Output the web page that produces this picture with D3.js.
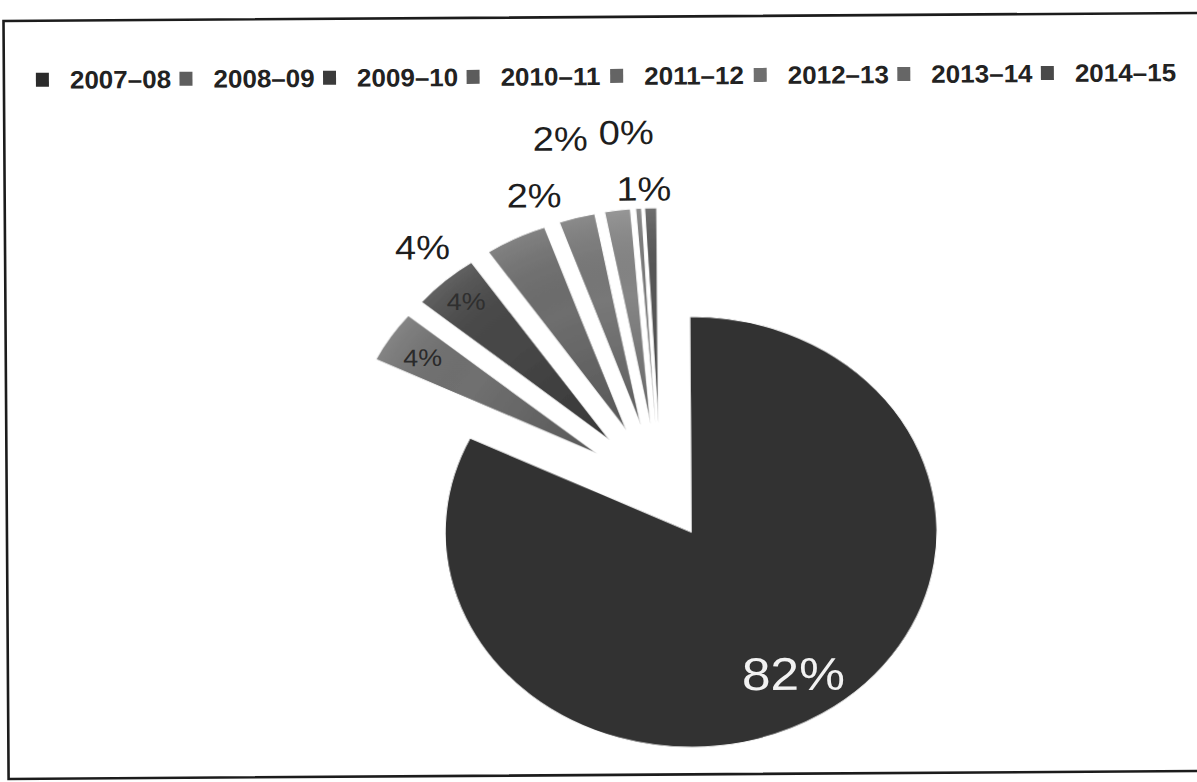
<!DOCTYPE html>
<html>
<head>
<meta charset="utf-8">
<script src="https://cdn.jsdelivr.net/npm/d3@7"></script>
<style>
  html, body { margin: 0; padding: 0; background: #ffffff; }
  text { font-family: "Liberation Sans", Arial, Helvetica, sans-serif; }
</style>
</head>
<body>
<svg id="chart" width="1197" height="782"></svg>
<script>
// Financial years and their share of the total (per cent)
const years  = ["2007–08", "2008–09", "2009–10", "2010–11", "2011–12", "2012–13", "2013–14", "2014–15"];
const shares = [82.3, 3.9, 4.4, 4.1, 2.4, 1.7, 0.4, 0.8];

// Grey tones for each year's slice
const sliceColors = ["#333333", "#707070", "#474747", "#6e6e6e", "#787878", "#858585", "#7a7a7a", "#575757"];

// How far each slice is pulled out from the centre, as a fraction of the radius
const explode = [0.232, 0.309, 0.309, 0.309, 0.309, 0.309, 0.309, 0.309];

// Label placement: "in" sits on the slice, "out" sits beyond its rim
const labelMode = ["in", "in", "in", "out", "out", "out", "out", "out"];
const labelRadius = [0.78, 0.82, 0.87, 1.12, 1.12, 1.12, 1.12, 1.12];
const labelNudge = [[0, 0], [-5, 0], [0, 0], [-80, 32], [-35, 3], [-53, -46], [-10, -50], [-6, 7]];

const W = 1197, H = 782;
const svg = d3.select("#chart");

// Whole page content is slightly tilted, like a scanned sheet
const root = svg.append("g").attr("transform", `rotate(-0.385, ${W / 2}, ${H / 2})`);

// Frame
root.append("rect")
  .attr("x", 6).attr("y", 17)
  .attr("width", 1205).attr("height", 758)
  .attr("fill", "none")
  .attr("stroke", "#1c1c1c")
  .attr("stroke-width", 2.6);

// Legend
const legendX = d3.scalePoint().domain(years).range([38, 1043]);
const legend = root.append("g").attr("class", "legend");
const item = legend.selectAll("g").data(years).join("g")
  .attr("transform", d => `translate(${legendX(d)}, 76)`);
item.append("rect")
  .attr("x", 0).attr("y", -7).attr("width", 13).attr("height", 14)
  .attr("fill", (d, i) => d3.color(sliceColors[i]).darker(0.5));
item.append("text")
  .attr("x", 34).attr("y", 9)
  .attr("font-size", 25).attr("font-weight", "bold")
  .attr("fill", "#222")
  .attr("transform", "translate(34,0) scale(1.04,1) translate(-34,0)")
  .text(d => d);

// Pie geometry
const cx = 660, cy = 490, R = 246, k = 0.876;

const pie = d3.pie().sort(null).value(d => d).startAngle(0).endAngle(2 * Math.PI);
const arcs = pie(shares);
const arc = d3.arc().innerRadius(0).outerRadius(R);

const defs = svg.append("defs");
const shade = defs.append("radialGradient")
  .attr("id", "sliceShade")
  .attr("gradientUnits", "userSpaceOnUse")
  .attr("cx", 0).attr("cy", 0).attr("r", R);
shade.append("stop").attr("offset", "0%").attr("stop-color", "#000").attr("stop-opacity", 0.22);
shade.append("stop").attr("offset", "60%").attr("stop-color", "#000").attr("stop-opacity", 0.0);
shade.append("stop").attr("offset", "100%").attr("stop-color", "#fff").attr("stop-opacity", 0.14);

const soft = defs.append("filter").attr("id", "soft").attr("x", "-5%").attr("y", "-5%").attr("width", "110%").attr("height", "110%");
soft.append("feGaussianBlur").attr("stdDeviation", 0.7);

const mid = a => (a.startAngle + a.endAngle) / 2;
const offset = (a, i) => [Math.sin(mid(a)) * explode[i] * R, -Math.cos(mid(a)) * explode[i] * R];

const pieG = root.append("g")
  .attr("transform", `translate(${cx}, ${cy}) scale(1, ${k})`)
  .attr("filter", "url(#soft)");

const slice = pieG.selectAll("g.slice").data(arcs).join("g")
  .attr("class", "slice")
  .attr("transform", (a, i) => { const [ex, ey] = offset(a, i); return `translate(${ex}, ${ey})`; });

slice.append("path")
  .attr("d", arc)
  .attr("fill", (a, i) => sliceColors[i])
  .attr("stroke", "#fff")
  .attr("stroke-width", 1.2);
slice.filter((a, i) => i > 0).append("path")
  .attr("d", arc)
  .attr("fill", "url(#sliceShade)");

// Percentage labels
const fmt = v => Math.round(v) + "%";
const labelPos = (a, i) => {
  const [ex, ey] = offset(a, i);
  const m = mid(a), r = labelRadius[i] * R;
  const x = ex + Math.sin(m) * r;
  const y = ey - Math.cos(m) * r;
  return [cx + x + labelNudge[i][0], cy + y * k + labelNudge[i][1]];
};

const labelFill = (a, i) => {
  if (i === 0) return "#f2f2f2";
  if (labelMode[i] === "in") return i === 2 ? "#2f2f2f" : "#2a2a2a";
  return "#1e1e1e";
};

root.append("g").attr("class", "labels")
  .selectAll("text").data(arcs).join("text")
  .attr("text-anchor", "middle")
  .attr("dominant-baseline", "central")
  .attr("font-size", (a, i) => i === 0 ? 46 : (labelMode[i] === "in" ? 24 : 34))
  .attr("fill", labelFill)
  .attr("transform", (a, i) => { const [x, y] = labelPos(a, i); return `translate(${x}, ${y}) scale(1.12, 1)`; })
  .text(a => fmt(a.data));
</script>
</body>
</html>
